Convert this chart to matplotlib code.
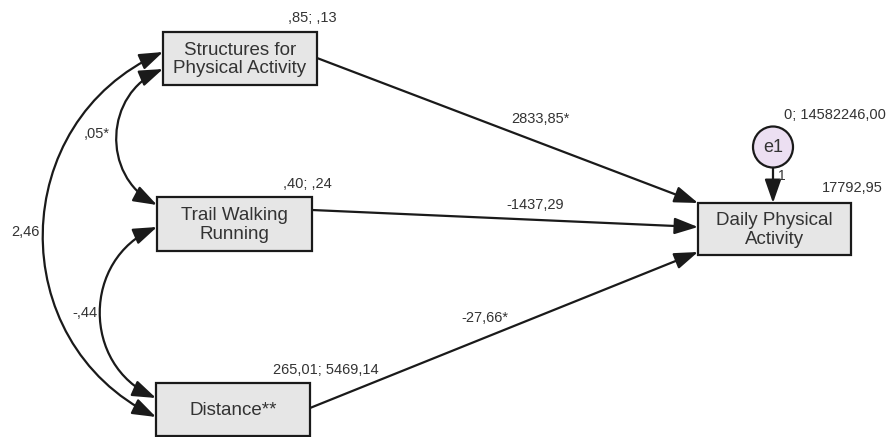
import numpy as np
import matplotlib
matplotlib.use("Agg")
import matplotlib.pyplot as plt
from matplotlib.patches import Rectangle, Ellipse, FancyArrowPatch, ArrowStyle
from matplotlib.path import Path

plt.rcParams['font.family'] = ['Liberation Sans', 'DejaVu Sans']

# model values
predictors = ["Structures for\nPhysical Activity", "Trail Walking\nRunning", "Distance**"]
predictor_stats = [",85; ,13", ",40; ,24", "265,01; 5469,14"]
path_coefs = ["2833,85*", "-1437,29", "-27,66*"]
outcome = "Daily Physical\nActivity"
outcome_intercept = "17792,95"
error_name = "e1"
error_stats = "0; 14582246,00"
error_weight = "1"
cov_pairs = [(0, 1), (0, 2), (1, 2)]
cov_labels = [",05*", "2,46", "-,44"]

# layout, in pixels of the 890x437 canvas (x, y, w, h)
pred_boxes = [(163, 32, 154, 53), (157, 197, 155, 54), (156, 383, 154, 53)]
out_box = (698, 203, 153, 52)
err_center, err_r = (773, 147), 20
stat_pos = [(312, 18), (307, 184), (326, 370)]
path_start = [(317, 58), (312, 210), (310, 408)]
path_end = [(698, 203), (698, 227), (698, 252)]
coef_pos = [(540, 119), (535, 205), (485, 318)]
cov_ends = [((163, 69), (157, 205)), ((163, 52), (156, 417)), ((157, 227), (156, 398))]
cov_sag = [43, 116, 56]
cov_lab_pos = [(97, 134), (25, 232), (85, 313)]

ink = "#1a1a1a"
txt = "#333333"
box_fc = "#e6e6e6"
lw = 1.6

fig = plt.figure(figsize=(8.9, 4.37), dpi=100)
ax = fig.add_axes([0, 0, 1, 1])
ax.set_xlim(0, 890)
ax.set_ylim(437, 0)
ax.axis('off')

mscale = 10
px = mscale * 100 / 72.0
head = ArrowStyle('-|>', head_length=20 / px, head_width=7 / px)
head2 = ArrowStyle('<|-|>', head_length=20 / px, head_width=7 / px)


def arc_path(p0, p3, sag):
    # circular arc bulging to the left, as a cubic bezier
    p0, p3 = np.array(p0, float), np.array(p3, float)
    c = np.linalg.norm(p3 - p0)
    u = (p3 - p0) / c
    n = np.array([-u[1], u[0]])
    if n[0] > 0:
        n = -n
    R = (c * c / 4 + sag * sag) / (2 * sag)
    theta = 2 * np.arcsin(min(1.0, c / (2 * R)))
    if sag > c / 2:
        theta = 2 * np.pi - theta
    t0 = np.cos(theta / 2) * u + np.sin(theta / 2) * n
    t3 = np.cos(theta / 2) * u - np.sin(theta / 2) * n
    k = 4.0 / 3.0 * np.tan(theta / 4) * R
    p1 = p0 + k * t0
    p2 = p3 - k * t3
    return Path([p0, p1, p2, p3], [Path.MOVETO, Path.CURVE4, Path.CURVE4, Path.CURVE4])


# boxes
for (x, y, w, h), name in zip(pred_boxes + [out_box], predictors + [outcome]):
    ax.add_patch(Rectangle((x, y), w, h, fc=box_fc, ec=ink, lw=lw, zorder=3))
    ax.text(x + w / 2, y + h / 2 + 1, name, ha='center', va='center',
            fontsize=13.5, color=txt, linespacing=1.1, zorder=4)

for (x, y), s in zip(stat_pos, predictor_stats):
    ax.text(x, y, s, ha='center', va='center', fontsize=10.5, color=txt)

# regression paths
for a, b, (x, y), s in zip(path_start, path_end, coef_pos, path_coefs):
    ax.add_patch(FancyArrowPatch(a, b, arrowstyle=head, mutation_scale=mscale,
                                 shrinkA=0, shrinkB=0, color=ink, lw=lw, zorder=2))
    ax.text(x, y, s, ha='center', va='center', fontsize=10.5, color=txt)

# covariances
for (a, b), sag, (x, y), s in zip(cov_ends, cov_sag, cov_lab_pos, cov_labels):
    ax.add_patch(FancyArrowPatch(path=arc_path(a, b, sag), arrowstyle=head2,
                                 mutation_scale=mscale, color=ink, lw=lw, zorder=2))
    ax.text(x, y, s, ha='center', va='center', fontsize=10.5, color=txt)

# error term
ex, ey = err_center
ax.add_patch(Ellipse(err_center, 2 * err_r, 2 * err_r + 1, fc="#ecdff2", ec=ink, lw=lw, zorder=3))
ax.text(ex, ey, error_name, ha='center', va='center', fontsize=13, color=txt, zorder=4)
ax.add_patch(FancyArrowPatch((ex, ey + err_r + 1), (ex, out_box[1]), arrowstyle=head,
                             mutation_scale=mscale, shrinkA=0, shrinkB=0, color=ink, lw=lw, zorder=2))
ax.text(ex + 9, 176, error_weight, ha='center', va='center', fontsize=10, color=txt)
ax.text(835, 115, error_stats, ha='center', va='center', fontsize=10.5, color=txt)
ax.text(852, 188, outcome_intercept, ha='center', va='center', fontsize=10.5, color=txt)

fig.savefig("out.png", dpi=100, facecolor="white")
